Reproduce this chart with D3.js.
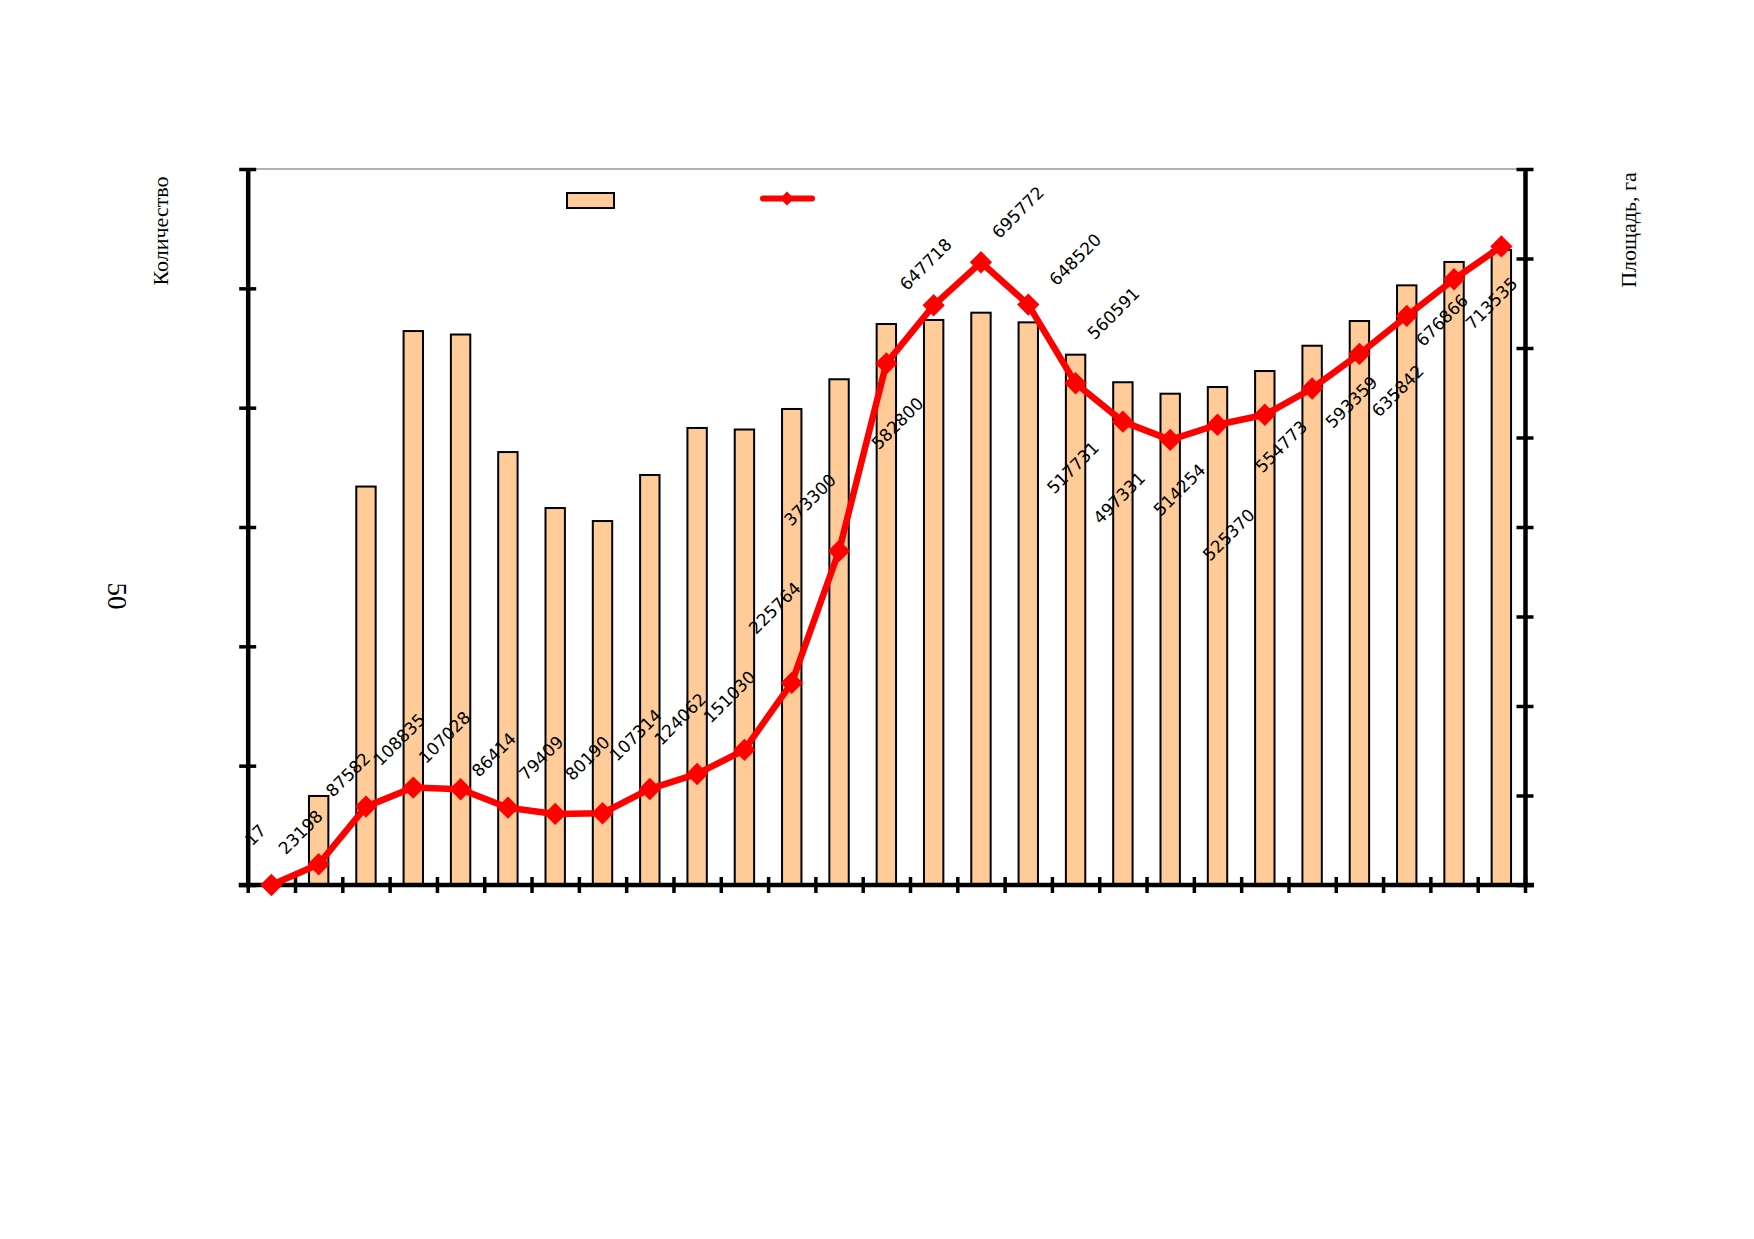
<!DOCTYPE html>
<html>
<head>
<meta charset="utf-8">
<script src="https://cdn.jsdelivr.net/npm/d3@7/dist/d3.min.js"></script>
<style>
  html, body { margin: 0; padding: 0; background: #fff; }
  svg { display: block; }
</style>
</head>
<body>
<script>
// ---- data ----
const categories = d3.range(1, 28).map(String);
const countValues = [0, 7460, 33390, 46420, 46130, 36280, 31590, 30500, 34360, 38300, 38170, 39890, 42380,
  47010, 47350, 47960, 47150, 44440, 42130, 41170, 41730, 43070, 45190, 47260, 50250, 52210, 53210];
const areaValues = [17, 23198, 87582, 108835, 107028, 86414, 79409, 80190, 107314, 124062, 151030, 225764,
  373300, 582800, 647718, 695772, 648520, 560591, 517731, 497331, 514254, 525370, 554773, 593359,
  635842, 676866, 713535];
const leftTicks = d3.range(0, 60001, 10000);
const rightTicks = d3.range(0, 800001, 100000);
const leftTitle = "Количество";
const rightTitle = "Площадь, га";
const strayLabel = "50";

// ---- layout (label placement relative to point: dx, dy) ----
const labelOffsets = [[-16,-50],[-18,-32],[-18,-32],[-14,-48],[-16,-52],[-14,-53],[-14,-56],[-15,-55],
  [-14,-54],[-17,-55],[-15,-53],[-17,-75],[-29,-51],[11,60],[-8,-41],[37,-50],[47,-45],[38,-70],
  [-50,46],[-51,58],[-38,65],[-36,120],[-31,58],[-8,48],[-9,75],[-12,41],[-10,57]];

const W = 1754, H = 1239;
const L = 247.7, R = 1525, T = 169, B = 885;

const svg = d3.select("body").append("svg").attr("width", W).attr("height", H);
svg.append("rect").attr("width", W).attr("height", H).attr("fill", "#fff");

const x = d3.scaleBand().domain(categories).range([L, R]).paddingInner(0).paddingOuter(0);
const xLin = d3.scaleLinear().domain([0, categories.length]).range([L, R]);
const yL = d3.scaleLinear().domain([0, 60000]).range([B, T]);
const yR = d3.scaleLinear().domain([0, 800000]).range([B, T]);

// top border
svg.append("line").attr("x1", L).attr("x2", R).attr("y1", T).attr("y2", T)
  .attr("stroke", "#999").attr("stroke-width", 1.6);

// bars
const bw = x.bandwidth() * 0.41;
svg.append("g").selectAll("rect")
  .data(categories.map((c, i) => ({ c, v: countValues[i] })).filter(d => d.v > 0))
  .join("rect")
  .attr("x", d => x(d.c) + (x.bandwidth() - bw) / 2)
  .attr("y", d => yL(d.v))
  .attr("width", bw)
  .attr("height", d => yL(0) - yL(d.v))
  .attr("fill", "#FFCC99")
  .attr("stroke", "#000")
  .attr("stroke-width", 2);

// axes
function styleAxis(g) {
  g.select(".domain").attr("stroke", "#000").attr("stroke-width", 4.5);
  g.selectAll(".tick line").attr("stroke", "#000").attr("stroke-width", 3.5);
  g.selectAll(".tick text").remove();
}
const gx = svg.append("g").attr("transform", `translate(0,${B})`)
  .call(d3.axisBottom(xLin).tickValues(d3.range(0, categories.length + 1)).tickSize(8).tickSizeOuter(0).tickFormat(""));
gx.selectAll(".tick line").attr("y1", -8).attr("y2", 8);
gx.select(".domain").attr("d", `M${L - 9},0H${R + 9}`);
styleAxis(gx);

const gl = svg.append("g").attr("transform", `translate(${L},0)`)
  .call(d3.axisLeft(yL).tickValues(leftTicks).tickSize(8.5).tickSizeOuter(0).tickFormat(""));
gl.selectAll(".tick line").attr("x1", 8.5).attr("x2", -8.5);
styleAxis(gl);

const gr = svg.append("g").attr("transform", `translate(${R},0)`)
  .call(d3.axisRight(yR).tickValues(rightTicks).tickSize(8.5).tickSizeOuter(0).tickFormat(""));
gr.selectAll(".tick line").attr("x1", -8.5).attr("x2", 8.5);
styleAxis(gr);

// line
const cx = i => x(categories[i]) + x.bandwidth() / 2;
const line = d3.line().x((d, i) => cx(i)).y(d => yR(d));
svg.append("path").datum(areaValues).attr("d", line)
  .attr("fill", "none").attr("stroke", "#FF0000").attr("stroke-width", 6.5)
  .attr("stroke-linejoin", "round").attr("stroke-linecap", "round");

const diamond = d3.symbol().type(d3.symbolSquare).size(250);
svg.append("g").selectAll("path").data(areaValues).join("path")
  .attr("d", diamond)
  .attr("transform", (d, i) => `translate(${cx(i)},${yR(d)}) rotate(45)`)
  .attr("fill", "#FF0000");

// data labels
svg.append("g").selectAll("text").data(areaValues).join("text")
  .attr("transform", (d, i) => {
    const [dx, dy] = labelOffsets[i];
    return `translate(${cx(i) + dx},${yR(d) + dy}) rotate(-45)`;
  })
  .attr("text-anchor", "middle")
  .attr("dominant-baseline", "central")
  .attr("font-family", "DejaVu Sans, Verdana, sans-serif")
  .attr("font-size", 17)
  .attr("fill", "#000")
  .text(d => d);

// axis titles
svg.append("text").attr("transform", `translate(160,231) rotate(-90)`)
  .attr("text-anchor", "middle").attr("dominant-baseline", "central")
  .attr("font-family", "Liberation Serif, Times New Roman, serif").attr("font-size", 22)
  .text(leftTitle);
svg.append("text").attr("transform", `translate(1628,230) rotate(-90)`)
  .attr("text-anchor", "middle").attr("dominant-baseline", "central")
  .attr("font-family", "Liberation Serif, Times New Roman, serif").attr("font-size", 22)
  .text(rightTitle);
svg.append("text").attr("transform", `translate(117,596) rotate(90)`)
  .attr("text-anchor", "middle").attr("dominant-baseline", "central")
  .attr("font-family", "Liberation Serif, Times New Roman, serif").attr("font-size", 27)
  .text(strayLabel);

// legend
svg.append("rect").attr("x", 567).attr("y", 193).attr("width", 47).attr("height", 15)
  .attr("fill", "#FFCC99").attr("stroke", "#000").attr("stroke-width", 2);
svg.append("line").attr("x1", 763).attr("x2", 812).attr("y1", 198.5).attr("y2", 198.5)
  .attr("stroke", "#FF0000").attr("stroke-width", 6).attr("stroke-linecap", "round");
svg.append("path").attr("d", d3.symbol().type(d3.symbolSquare).size(95)())
  .attr("transform", "translate(787,198.5) rotate(45)").attr("fill", "#FF0000");
</script>
</body>
</html>
